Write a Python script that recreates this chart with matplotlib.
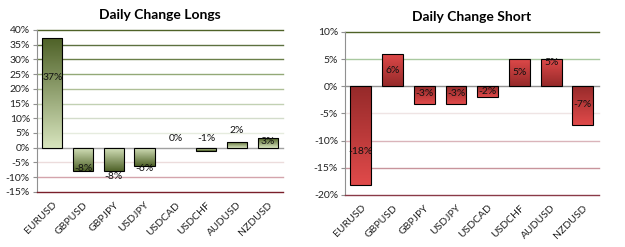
import numpy as np
import matplotlib
matplotlib.use("Agg")
import matplotlib.pyplot as plt
from matplotlib.colors import LinearSegmentedColormap
from matplotlib.patches import Rectangle

pairs = ["EURUSD", "GBPUSD", "GBPJPY", "USDJPY", "USDCAD", "USDCHF", "AUDUSD", "NZDUSD"]

longs = [37.2, -8.0, -8.0, -6.2, 0.0, -1.0, 2.1, 3.2]
longs_text = ["37%", "-8%", "-8%", "-6%", "0%", "-1%", "2%", "3%"]
longs_label_y = [24.0, -7.2, -9.9, -7.2, 3.3, 3.3, 5.7, 2.0]

shorts = [-18.2, 6.0, -3.2, -3.2, -2.0, 5.0, 5.0, -7.2]
shorts_text = ["-18%", "6%", "-3%", "-3%", "-2%", "5%", "5%", "-7%"]
shorts_label_y = [-12.1, 2.8, -1.4, -1.4, -0.9, 2.6, 4.3, -3.3]

longs_ticks = list(range(-15, 41, 5))
shorts_ticks = list(range(-20, 11, 5))

longs_grid = ["#7a1f2a", "#d4a4ac", "#ecdcdc", "#a0a0a0", "#e6ecdf", "#d3dccb",
              "#c2d1b3", "#aebf96", "#93a977", "#6a7f48", "#5d7140", "#4f6228"]
shorts_grid = ["#8a3a48", "#c8949c", "#dab4ba", "#efe4e4", "#909090", "#a9c9a0", "#4f6228"]

FONT = ["Lato", "DejaVu Sans"]
FS = 7.5


def gradient_bars(ax, values, dark, light, dark_away):
    cmap = LinearSegmentedColormap.from_list("g", [light, dark])
    width = 0.66
    for i, v in enumerate(values):
        if v == 0:
            continue
        x0 = i - width / 2
        rect = Rectangle((x0, min(0, v)), width, abs(v), facecolor="none",
                         edgecolor="black", linewidth=0.8, zorder=4)
        ax.add_patch(rect)
        grad = np.linspace(0, 1, 100).reshape(-1, 1)
        if v > 0:
            g = grad if dark_away else grad[::-1]
        else:
            g = grad[::-1] if dark_away else grad
        im = ax.imshow(g, cmap=cmap, origin="lower", aspect="auto",
                       extent=[x0, x0 + width, min(0, v), max(0, v)], zorder=3)
        im.set_clip_path(rect)


def style_axes(ax, ticks, grid_colors, title):
    ax.set_xlim(-0.5, len(pairs) - 0.5)
    ax.set_ylim(ticks[0], ticks[-1])
    for t, c in zip(ticks, grid_colors):
        ax.axhline(t, color=c, linewidth=1.0, clip_on=False,
                   zorder=1 if t != ticks[0] else 5)
    ax.set_yticks(ticks)
    ax.set_yticklabels([f"{t}%" for t in ticks], fontsize=FS, family=FONT, color="#222222")
    ax.set_xticks(range(len(pairs)))
    ax.set_xticklabels(pairs, rotation=45, ha="right", rotation_mode="anchor",
                       fontsize=FS, family=FONT, color="#222222")
    ax.tick_params(axis="x", length=0, pad=6)
    ax.tick_params(axis="y", length=3, color="#909090", pad=2)
    for s in ["top", "right", "bottom"]:
        ax.spines[s].set_visible(False)
    ax.spines["left"].set_color("#909090")
    ax.spines["left"].set_linewidth(0.8)
    ax.set_title(title, fontsize=10, fontweight="bold", family=FONT, pad=8)


fig = plt.figure(figsize=(6.25, 2.47), dpi=100)
ax1 = fig.add_axes([0.059, 0.223, 0.394, 0.656])
ax2 = fig.add_axes([0.552, 0.211, 0.406, 0.66])

style_axes(ax1, longs_ticks, longs_grid, "Daily Change Longs")
gradient_bars(ax1, longs, "#4f6228", "#d7e4bd", dark_away=True)
for i, (t, y) in enumerate(zip(longs_text, longs_label_y)):
    ax1.text(i, y, t, ha="center", va="center", fontsize=FS, family=FONT,
             color="#111111", zorder=6)

style_axes(ax2, shorts_ticks, shorts_grid, "Daily Change Short")
gradient_bars(ax2, shorts, "#962a2a", "#e04a4a", dark_away=False)
for i, (t, y) in enumerate(zip(shorts_text, shorts_label_y)):
    ax2.text(i, y, t, ha="center", va="center", fontsize=FS, family=FONT,
             color="#111111", zorder=6)

fig.savefig("out.png", dpi=100)
